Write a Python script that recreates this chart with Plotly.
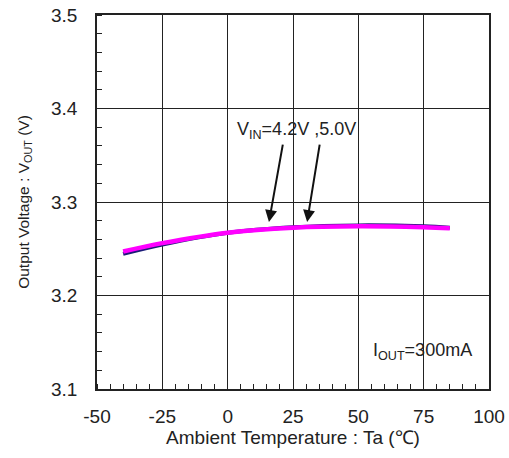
import plotly.graph_objects as go

temperature = [-40, -25, 0, 25, 50, 75, 85]
vout_vin42 = [3.2445, 3.2545, 3.2670, 3.2730, 3.2750, 3.2740, 3.2725]
vout_vin50 = [3.2470, 3.2560, 3.2672, 3.2725, 3.2740, 3.2730, 3.2720]

x_ticks = [-50, -25, 0, 25, 50, 75, 100]
y_ticks = [3.1, 3.2, 3.3, 3.4, 3.5]

FONT = "Liberation Sans, Arial, sans-serif"

fig = go.Figure()
fig.add_trace(go.Scatter(x=temperature, y=vout_vin42, mode="lines",
                         line=dict(color="#1c1c78", width=4, shape="spline"),
                         showlegend=False))
fig.add_trace(go.Scatter(x=temperature, y=vout_vin50, mode="lines",
                         line=dict(color="#ff00ff", width=4.5, shape="spline"),
                         showlegend=False))

fig.add_annotation(x=26.5, y=3.377, text="V<sub>IN</sub>=4.2V ,5.0V", showarrow=False,
                   font=dict(family=FONT, size=18, color="#222"))
fig.add_annotation(x=15.8, y=3.2786, ax=21.2, ay=3.363, axref="x", ayref="y",
                   xref="x", yref="y", text="", showarrow=True,
                   arrowhead=2, arrowsize=1.2, arrowwidth=2, arrowcolor="#111")
fig.add_annotation(x=30.4, y=3.2786, ax=35.3, ay=3.363, axref="x", ayref="y",
                   xref="x", yref="y", text="", showarrow=True,
                   arrowhead=2, arrowsize=1.2, arrowwidth=2, arrowcolor="#111")
fig.add_annotation(x=74.6, y=3.1396, text="I<sub>OUT</sub>=300mA", showarrow=False,
                   font=dict(family=FONT, size=18, color="#222"))

axis_common = dict(showgrid=True, gridcolor="#222", gridwidth=1,
                   showline=True, linecolor="#222", linewidth=1.5, mirror=True,
                   ticks="", zeroline=False, automargin=False,
                   tickfont=dict(family=FONT, size=19, color="#222"))

fig.update_xaxes(range=[-50, 100], tickvals=x_ticks, ticktext=[str(v) for v in x_ticks],
                 ticklabelstandoff=9,
                 title=dict(text="Ambient Temperature : Ta (℃)", standoff=5,
                            font=dict(family=FONT, size=19, color="#222")),
                 minor=dict(ticks="inside", dtick=5, ticklen=5, tickcolor="#222", showgrid=False),
                 **axis_common)
fig.update_yaxes(range=[3.1, 3.5], tickvals=y_ticks, ticktext=[f"{v:.1f}" for v in y_ticks],
                 ticklabelstandoff=14,
                 title=dict(text="Output Voltage : V<sub>OUT</sub> (V)", standoff=18,
                            font=dict(family=FONT, size=15.5, color="#222")),
                 minor=dict(ticks="inside", dtick=0.02, ticklen=5, tickcolor="#222", showgrid=False),
                 **axis_common)

fig.update_layout(width=509, height=458,
                  margin=dict(l=97, r=20, t=15, b=69),
                  paper_bgcolor="white", plot_bgcolor="white")

# remove the browser's default body margin so the figure fills the window exactly
fig.write_html("out.html",
               config={"displayModeBar": False},
               post_script="document.body.style.margin='0';"
                           "document.documentElement.style.overflow='hidden';")
